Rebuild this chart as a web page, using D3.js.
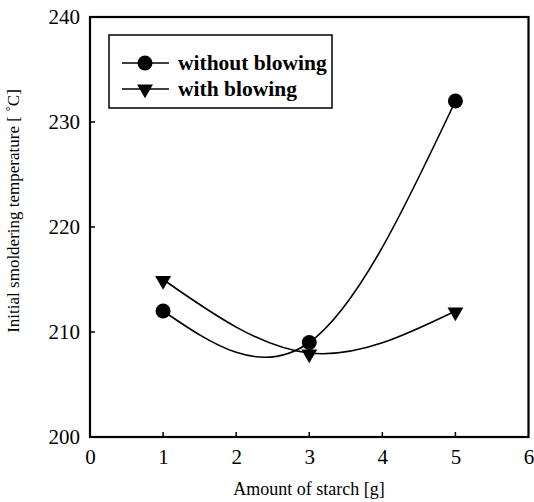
<!DOCTYPE html>
<html><head><meta charset="utf-8">
<script src="https://cdn.jsdelivr.net/npm/d3@7"></script>
<style>body{margin:0;background:#fff}svg{display:block}text{font-family:"Liberation Serif","Times New Roman",serif;fill:#000}</style>
</head><body>
<script>
const amounts = [1, 3, 5];
const withoutBlowing = [212, 209, 232];
const withBlowing = [215, 208, 212];
const xTicks = [0, 1, 2, 3, 4, 5, 6];
const yTicks = [200, 210, 220, 230, 240];
const seriesNames = ["without blowing", "with blowing"];

const W = 534, H = 502;
const m = {l: 90, r: 5, t: 17, b: 65};
const svg = d3.select("body").append("svg").attr("width", W).attr("height", H);
const x = d3.scaleLinear().domain([0, 6]).range([m.l, W - m.r - 0.5]);
const y = d3.scaleLinear().domain([200, 240]).range([H - m.b, m.t]);

// frame
svg.append("rect").attr("x", x(0)).attr("y", y(240)).attr("width", x(6) - x(0)).attr("height", y(200) - y(240))
  .attr("fill", "none").attr("stroke", "#000").attr("stroke-width", 2.2);

const xAxis = svg.append("g").attr("transform", `translate(0,${y(200)})`)
  .call(d3.axisBottom(x).tickValues(xTicks).tickSize(0).tickPadding(12).tickFormat(d3.format("d")));
xAxis.select(".domain").remove();
xAxis.selectAll("text").attr("font-size", 21);
svg.append("g").selectAll("line").data(xTicks.slice(1, -1)).join("line")
  .attr("x1", d => x(d)).attr("x2", d => x(d)).attr("y1", y(200)).attr("y2", y(200) - 5)
  .attr("stroke", "#000").attr("stroke-width", 1.5);

const yAxis = svg.append("g").attr("transform", `translate(${x(0)},0)`)
  .call(d3.axisLeft(y).tickValues(yTicks).tickSize(0).tickPadding(10).tickFormat(d3.format("d")));
yAxis.select(".domain").remove();
yAxis.selectAll("text").attr("font-size", 21);
svg.append("g").selectAll("line").data(yTicks.slice(1, -1)).join("line")
  .attr("x1", x(0)).attr("x2", x(0) + 5).attr("y1", d => y(d)).attr("y2", d => y(d))
  .attr("stroke", "#000").attr("stroke-width", 1.5);

// axis titles
svg.append("text").attr("x", 309).attr("y", 495).attr("text-anchor", "middle").attr("font-size", 18)
  .text("Amount of starch [g]");
svg.append("text").attr("transform", "translate(19,211) rotate(-90)").attr("text-anchor", "middle").attr("font-size", 17)
  .text("Initial smoldering temperature [ ˚C]");

const line = d3.line().x(d => x(d[0])).y(d => y(d[1])).curve(d3.curveNatural);
const s1 = amounts.map((a, i) => [a, withoutBlowing[i]]);
const s2 = amounts.map((a, i) => [a, withBlowing[i]]);
[s1, s2].forEach(s => svg.append("path").attr("d", line(s)).attr("fill", "none").attr("stroke", "#000").attr("stroke-width", 1.6));

const tri = d3.symbol().type(d3.symbolTriangle).size(110);
function circ(g, cx, cy) { g.append("circle").attr("cx", cx).attr("cy", cy).attr("r", 7.5).attr("fill", "#000"); }
function triMark(g, cx, cy) { g.append("path").attr("d", tri()).attr("transform", `translate(${cx},${cy}) rotate(180)`).attr("fill", "#000"); }
s1.forEach(d => circ(svg, x(d[0]), y(d[1])));
s2.forEach(d => triMark(svg, x(d[0]), y(d[1]) + 1));

// legend
const lg = svg.append("g");
lg.append("rect").attr("x", 109).attr("y", 35).attr("width", 223).attr("height", 73)
  .attr("fill", "#fff").attr("stroke", "#000").attr("stroke-width", 1.5);
[0, 1].forEach(i => {
  const cy = 63 + i * 26;
  lg.append("line").attr("x1", 122).attr("x2", 169).attr("y1", cy).attr("y2", cy).attr("stroke", "#000").attr("stroke-width", 1.6);
  if (i === 0) circ(lg, 145, cy); else triMark(lg, 145, cy);
  lg.append("text").attr("x", 178).attr("y", cy).attr("dy", "0.33em").attr("font-size", 21.5).attr("font-weight", "bold").text(seriesNames[i]);
});
</script>
</body></html>
